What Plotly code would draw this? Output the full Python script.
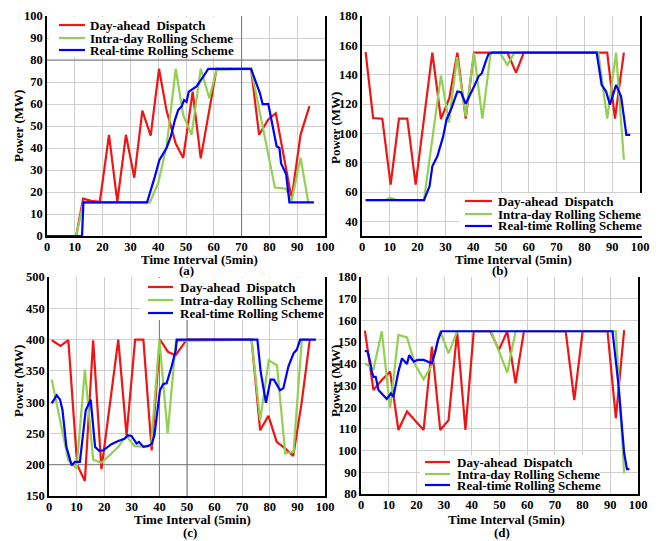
import plotly.graph_objects as go

W, H = 659, 541

# ---------------- data ----------------
LABELS = ["Day-ahead  Dispatch", "Intra-day Rolling Scheme", "Real-time Rolling Scheme"]
PANELS = ["(a)", "(b)", "(c)", "(d)"]
X_TITLE = "Time Interval (5min)"
Y_TITLE = "Power (MW)"

# (a)
a_red_x = [0, 10.5, 13, 16, 19, 22.3, 25.3, 28.4, 31.4, 34.3, 37.3, 40.3, 43, 46.3, 49, 52.4, 55.3, 61, 73.4, 76.3, 79.6, 82.3, 88, 91.2, 94.4]
a_red_y = [0, 0, 17, 16, 15.5, 46, 15.5, 46, 26.5, 57, 45.6, 76, 57, 42, 35.5, 65.6, 35.3, 76, 76, 46, 53, 55.8, 17, 46, 59]
a_green_x = [0, 10.5, 13.1, 37, 40, 43, 46.3, 49, 52, 55.3, 58.4, 61, 73.4, 82, 86, 88, 91.2, 94]
a_green_y = [0, 0, 15.3, 15.3, 24, 40.6, 76, 55, 46, 76, 62.6, 75.5, 76, 22, 21.5, 16, 35.6, 15.3]
a_blue_x = [0, 12.6, 13.1, 36, 38.8, 40.4, 43, 44.5, 46, 47.2, 48.4, 49.3, 50.2, 51, 53.8, 55, 56.2, 58, 73.4, 76.6, 77.6, 79.6, 81.2, 82.6, 83.6, 84.2, 86, 87.2, 96]
a_blue_y = [0, 0, 15.3, 15.3, 27, 34.5, 40, 45, 52.7, 57.3, 58.8, 61.8, 61, 65.6, 68, 70, 72.4, 76, 76, 64.8, 59.8, 60, 49.7, 40.8, 40, 33, 28.2, 15.3, 15.3]

# (b)
b_red_x = [1.3, 4, 7.3, 10.3, 13.3, 16.3, 19.3, 25.3, 28.4, 31.4, 34.3, 37.3, 40.3, 52.3, 55.4, 58.2, 88.2, 91, 94.2]
b_red_y = [155.3, 110.4, 110, 65, 110, 110, 65, 155, 109.7, 124, 155, 110, 155, 155, 141.4, 155, 155, 110, 155]
b_green_x = [1.3, 8, 10.3, 13, 22.3, 28.4, 31.3, 34.2, 37.3, 40.3, 43.3, 46.3, 49.6, 52.3, 54.8, 85, 88.2, 91.4, 94.2]
b_green_y = [54.4, 54.4, 56, 54.4, 54.4, 139.4, 107.4, 152, 111.5, 155, 110, 155, 155, 146.5, 155, 155, 110, 155, 82]
b_blue_x = [1.3, 22.3, 24.3, 25.3, 27.1, 29.2, 30.4, 32.2, 34.3, 35.6, 37.3, 39, 40.3, 41.9, 43.1, 44.3, 45.5, 46.7, 84.4, 86.2, 87.8, 89.2, 91.4, 93.2, 95.1, 96.5]
b_blue_y = [54.4, 54.4, 63.9, 77.5, 84.3, 97.9, 109.3, 117.2, 128.5, 128, 120.1, 126.3, 131.9, 138.7, 141, 147.8, 154.1, 155, 155, 133, 128.5, 119.5, 133, 125.1, 99, 99]

# (c)
c_red_x = [1, 4.2, 7, 10.2, 13, 16, 19, 25.1, 28.1, 31.2, 34.2, 37.2, 40.2, 43.2, 45.9, 49.9, 73.4, 76.5, 79.5, 82.5, 85.5, 88.5, 91.5, 94.5]
c_red_y = [399, 390, 399, 200, 174, 399, 193, 400, 247, 400, 400, 223, 400, 380, 375, 400, 400, 255, 278, 236.5, 226, 214, 298, 400]
c_green_x = [1, 7, 10, 13, 16, 19, 25, 28, 31, 34, 37, 40, 43, 46, 73.4, 76.5, 79.6, 82.6, 85.6, 88.6, 91.6, 94]
c_green_y = [336, 207, 194, 352, 208, 203, 228, 246, 229.6, 229, 231, 400, 250, 398, 400, 271, 367, 359, 218, 220.5, 400, 400]
c_blue_x = [1, 2.8, 4, 4.9, 6.3, 8.2, 9.4, 11.2, 13.3, 15.1, 16.7, 18.2, 19.7, 22.6, 25.1, 27.5, 28.5, 29.9, 31.7, 32.6, 34.2, 36, 37.2, 38.2, 40.2, 41.4, 42.6, 44.4, 45.9, 46.3, 75.5, 76.7, 78.6, 80.3, 81.5, 83.7, 84.9, 86.7, 88.6, 89.8, 91, 96.7]
c_blue_y = [298, 311, 304, 287, 228.5, 199, 204.5, 204.5, 287, 304, 228.5, 222, 223, 232.8, 238, 241.7, 247, 246, 234, 236.5, 228.5, 230, 233, 247, 319, 329, 330, 356.5, 383, 400, 400, 348.5, 299, 336, 336, 319, 322, 356.5, 378, 384, 400, 400]

# (d)
d_red_x = [1.4, 4.5, 7.5, 10.5, 13.5, 16.6, 22.6, 25.6, 28.6, 31.6, 34.7, 37.7, 40.7, 46.7, 49.8, 52.8, 55.8, 58.8, 73.9, 77, 80, 89, 92, 95]
d_red_y = [155.3, 127.9, 132.5, 136.4, 109.5, 118, 109.5, 147.9, 109.5, 114, 154.8, 109.5, 155, 155, 146.4, 155, 131, 155, 155, 123.3, 155, 155, 114.9, 155.5]
d_green_x = [1.4, 4.5, 7.5, 10.5, 13.5, 16.6, 19.6, 22.6, 25.6, 28.6, 31.6, 34.7, 47, 52.8, 55.8, 92, 95]
d_green_y = [140.2, 137.5, 155, 119.5, 153.3, 152.2, 139.4, 132.9, 139.4, 155, 144.8, 155, 155, 136, 155, 155, 89.5]
d_blue_x = [1.4, 2.4, 3.3, 3.9, 4.5, 5.3, 6.3, 7.5, 9.3, 10.8, 11.7, 13.5, 14.8, 16.6, 17.4, 19, 20.5, 22.6, 24.1, 25.6, 26.8, 27.8, 29, 90.8, 92.8, 95, 96, 96.9]
d_blue_y = [146, 145.6, 141, 136.4, 134, 134, 127.9, 126.4, 123.8, 126.4, 124.8, 136.4, 142.5, 139.9, 144, 141, 141.8, 141.8, 141, 140.2, 145.6, 151, 155, 155, 132, 99, 91.5, 91.5]

# ---------------- style ----------------
RED, GREEN, BLUE = "#f01414", "#92d050", "#0000ff"
COLORS = [RED, GREEN, BLUE]
FONT = "Liberation Serif"

series = [
    [(a_red_x, a_red_y), (a_green_x, a_green_y), (a_blue_x, a_blue_y)],
    [(b_red_x, b_red_y), (b_green_x, b_green_y), (b_blue_x, b_blue_y)],
    [(c_red_x, c_red_y), (c_green_x, c_green_y), (c_blue_x, c_blue_y)],
    [(d_red_x, d_red_y), (d_green_x, d_green_y), (d_blue_x, d_blue_y)],
]

# plot areas in pixels (left, right, top, bottom)
areas = [(47, 325, 16, 236), (362, 640, 16, 236), (49, 325, 277, 496), (361, 638, 277, 494)]
yranges = [[0, 100], [30, 180], [150, 500], [80, 180]]
ytickvals = [list(range(0, 101, 10)), list(range(40, 181, 20)), list(range(150, 501, 50)), list(range(80, 181, 10))]


def px(x):
    return x / W


def py(y):
    return 1 - y / H


fig = go.Figure()
layout = dict(
    width=W, height=H, margin=dict(l=0, r=0, t=0, b=0, pad=0, autoexpand=False),
    paper_bgcolor="white", plot_bgcolor="white", showlegend=False,
)

for i in range(4):
    n = "" if i == 0 else str(i + 1)
    L, R, T, B = areas[i]
    layout["xaxis" + n] = dict(
        domain=[px(L), px(R)], range=[0, 100], anchor="y" + n, automargin=False,
        tickvals=list(range(0, 101, 10)), showgrid=True, gridcolor="#cfcfcf", gridwidth=1,
        showline=True, linecolor="black", linewidth=1.5, zeroline=False, ticks="",
        ticklabelstandoff=-2,
        tickfont=dict(family=FONT, size=12.5, color="black", weight="bold"),
    )
    layout["yaxis" + n] = dict(
        domain=[py(B), py(T)], range=yranges[i], anchor="x" + n, automargin=False,
        tickvals=ytickvals[i], showgrid=True, gridcolor="#cfcfcf", gridwidth=1,
        showline=True, mirror=True, linecolor="black", linewidth=1.5, zeroline=False, ticks="",
        tickfont=dict(family=FONT, size=12.5, color="black", weight="bold"),
    )
    for k in range(3):
        xs, ys = series[i][k]
        fig.add_trace(go.Scatter(
            x=xs, y=ys, mode="lines", name=LABELS[k],
            line=dict(color=COLORS[k], width=2.2),
            xaxis="x" + n, yaxis="y" + n, showlegend=False,
        ))

shapes = []
annotations = []

# darker grid lines seen in the reference
dark = [("x", "y", "v", 70, 0, 100), ("x", "y", "h", 80, 0, 100),
        ("x3", "y3", "v", 40, 150, 500), ("x3", "y3", "v", 50, 150, 500), ("x3", "y3", "h", 200, 0, 100)]
for xr, yr, o, v, a, b in dark:
    if o == "v":
        shapes.append(dict(type="line", xref=xr, yref=yr, x0=v, x1=v, y0=a, y1=b,
                           line=dict(color="#777777", width=1), layer="between"))
    else:
        shapes.append(dict(type="line", xref=xr, yref=yr, x0=0, x1=100, y0=v, y1=v,
                           line=dict(color="#777777", width=1), layer="between"))

# manual legends (box x0,x1,y0,y1 ; sample x0,x1 ; text x ; row ys)
legends = [
    ((49, 233, 17, 57), (59, 85), 88, (25, 38, 50)),
    ((459, 642, 193, 236), (465, 492), 496, (201, 214, 226)),
    ((140, 323, 278, 320), (148, 173), 178, (287, 300, 313)),
    ((420, 600, 455, 493), (425, 450), 455, (462, 474, 485)),
]
for (bx0, bx1, by0, by1), (sx0, sx1), tx, rows in legends:
    shapes.append(dict(type="rect", xref="paper", yref="paper", x0=px(bx0), x1=px(bx1),
                       y0=py(by1), y1=py(by0), fillcolor="white", line=dict(width=0), layer="above"))
    for k, ry in enumerate(rows):
        shapes.append(dict(type="line", xref="paper", yref="paper", x0=px(sx0), x1=px(sx1),
                           y0=py(ry), y1=py(ry), line=dict(color=COLORS[k], width=2.2), layer="above"))
        annotations.append(dict(xref="paper", yref="paper", x=px(tx), y=py(ry), xanchor="left",
                                yanchor="middle", showarrow=False, text="<b>" + LABELS[k] + "</b>",
                                font=dict(family=FONT, size=13, color="black")))

# axis titles and panel labels
xt = [(199, 259), (513, 259), (192, 519), (506, 519)]
pl = [(186, 270), (500, 270), (190, 532), (502, 532)]
yt = [(18, 126), (335, 128), (18, 381), (335, 381)]
for i in range(4):
    annotations.append(dict(xref="paper", yref="paper", x=px(xt[i][0]), y=py(xt[i][1]),
                            xanchor="center", yanchor="middle", showarrow=False,
                            text="<b>" + X_TITLE + "</b>", font=dict(family=FONT, size=13, color="black")))
    annotations.append(dict(xref="paper", yref="paper", x=px(pl[i][0]), y=py(pl[i][1]),
                            xanchor="center", yanchor="middle", showarrow=False,
                            text="<b>" + PANELS[i] + "</b>", font=dict(family=FONT, size=13, color="black")))
    annotations.append(dict(xref="paper", yref="paper", x=px(yt[i][0]), y=py(yt[i][1]),
                            xanchor="center", yanchor="middle", showarrow=False, textangle=-90,
                            text="<b>" + Y_TITLE + "</b>", font=dict(family=FONT, size=13, color="black")))

layout["shapes"] = shapes
layout["annotations"] = annotations
fig.update_layout(**layout)
fig.write_html("out.html", config={"displayModeBar": False},
               post_script="document.body.style.margin='0px';document.body.style.overflow='hidden';")
